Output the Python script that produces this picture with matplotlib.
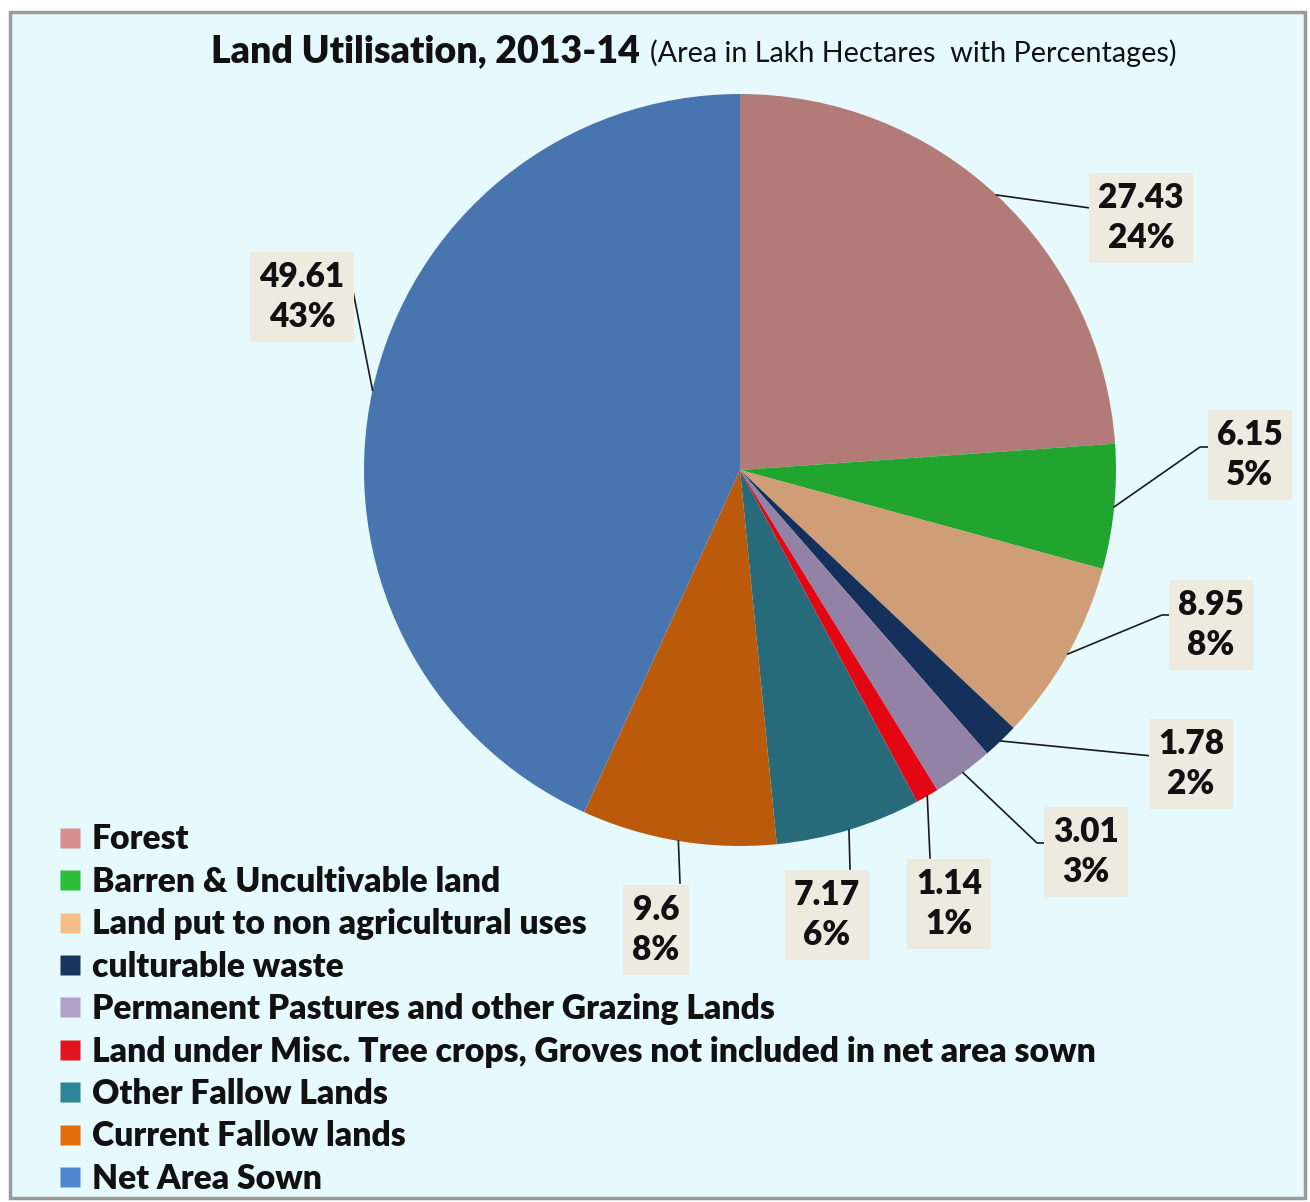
import numpy as np
import matplotlib
matplotlib.use("Agg")
import matplotlib.pyplot as plt
from matplotlib.patches import Rectangle
from matplotlib.lines import Line2D

plt.rcParams['font.family'] = ['Lato', 'DejaVu Sans']

categories = ["Forest", "Barren & Uncultivable land", "Land put to non agricultural uses",
              "culturable waste", "Permanent Pastures and other Grazing Lands",
              "Land under Misc. Tree crops, Groves not included in net area sown",
              "Other Fallow Lands", "Current Fallow lands", "Net Area Sown"]
values = [27.43, 6.15, 8.95, 1.78, 3.01, 1.14, 7.17, 9.6, 49.61]
value_labels = ["27.43", "6.15", "8.95", "1.78", "3.01", "1.14", "7.17", "9.6", "49.61"]

pie_colors = ["#B27B78", "#22A52E", "#CF9E76", "#15305A", "#9283A6",
              "#E30613", "#276B7A", "#BA5A0A", "#4874B0"]
legend_colors = ["#D9908E", "#2DBE3C", "#F8BE8A", "#1A355E", "#B3A2C7",
                 "#E0161E", "#2E8597", "#E46C0A", "#4F87D0"]

W, H = 1310, 1202
fig = plt.figure(figsize=(W / 100, H / 100), dpi=100)
fig.patch.set_facecolor("white")
ax = fig.add_axes([0, 0, 1, 1])

def Y(y):
    return H - y

# background panel
ax.add_patch(Rectangle((10, Y(1198)), 1295, 1186, facecolor="#E6F9FC",
                       edgecolor="#9A9A9A", lw=2.5, zorder=0))

cx, cy, R = 740, 470, 376
wedges, _ = ax.pie(values, colors=pie_colors, startangle=90, counterclock=False,
                   center=(cx, Y(cy)), radius=R, frame=True,
                   wedgeprops=dict(linewidth=0))

# label boxes (pixel centers) and leader paths
box_centers = [(1141, 218), (1250, 455), (1211, 625), (1191, 764), (1086, 852),
               (949, 904), (827, 915), (656, 930), (302, 297)]
leader_paths = [[(1090, 208)],
                [(1200, 447), (1210, 447)],
                [(1162, 615), (1172, 615)],
                [(1152, 756)],
                [(1037, 843), (1047, 843)],
                [(930, 858)],
                [(850, 869)],
                [(680, 883)],
                [(352, 286)]]

total = sum(values)
for w, v, lab, (bx, by), path in zip(wedges, values, value_labels, box_centers, leader_paths):
    mid = np.deg2rad((w.theta1 + w.theta2) / 2)
    ax_x = cx + R * np.cos(mid)
    ax_y = Y(cy) + R * np.sin(mid)
    xs = [ax_x] + [p[0] for p in path]
    ys = [ax_y] + [Y(p[1]) for p in path]
    ax.plot(xs, ys, color="#1A1A1A", lw=1.2, zorder=3)
    pct = f"{round(v / total * 100):.0f}%"
    ax.text(bx, Y(by), f"{lab}\n{pct}", ha="center", va="center", fontsize=24,
            fontweight="heavy", color="#111111", linespacing=1.3, zorder=4,
            bbox=dict(boxstyle="square,pad=0.28", facecolor="#EDEAE0", edgecolor="none"))

# title
ax.text(640, Y(62), "Land Utilisation, 2013-14", ha="right", va="baseline",
        fontsize=27, fontweight="heavy", color="#111111")
ax.text(650, Y(62), "(Area in Lakh Hectares  with Percentages)", ha="left", va="baseline",
        fontsize=20.7, color="#111111")

handles = [Line2D([], [], marker="s", linestyle="none", markersize=14,
                  markerfacecolor=c, markeredgecolor="none") for c in legend_colors]
leg = ax.legend(handles, categories, loc="upper left", bbox_to_anchor=(48 / W, 1 - 810 / H),
                bbox_transform=fig.transFigure, frameon=False, handlelength=0.5,
                handletextpad=0.4, labelspacing=0.31, borderaxespad=0,
                prop=dict(family=["Lato", "DejaVu Sans"], weight="heavy", size=24.2))
for t in leg.get_texts():
    t.set_color("#111111")

ax.set_xlim(0, W)
ax.set_ylim(0, H)
ax.set_aspect("auto")
ax.axis("off")

fig.savefig("out.png", dpi=100, facecolor=fig.get_facecolor())
